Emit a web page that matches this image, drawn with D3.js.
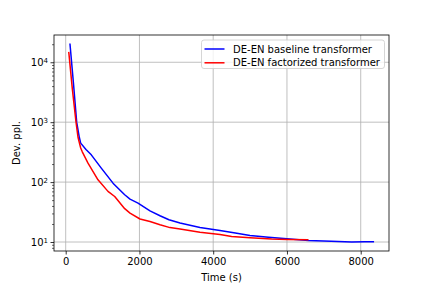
<!DOCTYPE html>
<html><head><meta charset="utf-8">
<script src="https://cdn.jsdelivr.net/npm/d3@7"></script>
<style>body{margin:0;background:#fff}svg{display:block}text{font-family:"DejaVu Sans",sans-serif;fill:#000}</style>
</head><body><svg id="c" width="432" height="288"></svg>
<script>
const seriesNames = ["DE-EN baseline transformer", "DE-EN factorized transformer"];
const seriesColors = ["#0000ff", "#ff0000"];
const baselineTime = [117, 210, 298, 369, 407, 550, 694, 965, 1283, 1600, 1744, 1961, 2286, 2557, 2800, 3100, 3642, 4184, 4600, 4998, 5500, 6000, 6580, 7200, 7756, 8100, 8342];
const baselinePpl  = [20000, 4500, 1000, 560, 447, 350, 285, 171, 96, 61.4, 52, 44.7, 33, 27.4, 23.5, 20.7, 17.5, 15.6, 14.2, 12.9, 12, 11.3, 10.6, 10.3, 10.0, 10.1, 10.1];
const factorTime = [85, 180, 280, 334, 407, 450, 605, 876, 1147, 1329, 1600, 1744, 2015, 2286, 2557, 2828, 3100, 3642, 4184, 4500, 4998, 5586, 6000, 6563];
const factorPpl  = [14500, 3600, 1000, 560, 370, 320, 207, 109, 70, 57.5, 36, 30.4, 24.2, 22, 19.4, 17.4, 16.5, 14.5, 13.4, 12.4, 11.8, 11.2, 11.0, 10.9];
const xTicks = [0, 2000, 4000, 6000, 8000];
const yTicks = [10, 100, 1000, 10000];
const xLabel = "Time (s)";
const yLabel = "Dev. ppl.";

const L = 54, R = 389, T = 35, B = 251;
const svg = d3.select("#c");
const x = d3.scaleLinear().domain([-317, 8767]).range([L, R]);
const y = d3.scaleLog().domain([Math.pow(10, 0.85), Math.pow(10, 4.455)]).range([B, T]);

// grid
const g = svg.append("g");
g.selectAll(".gx").data(xTicks).enter().append("line")
  .attr("x1", d => x(d)).attr("x2", d => x(d)).attr("y1", T).attr("y2", B)
  .attr("stroke", "#b0b0b0").attr("stroke-width", 0.8);
g.selectAll(".gy").data(yTicks).enter().append("line")
  .attr("y1", d => y(d)).attr("y2", d => y(d)).attr("x1", L).attr("x2", R)
  .attr("stroke", "#b0b0b0").attr("stroke-width", 0.8);

// axes
const xAxis = d3.axisBottom(x).tickValues(xTicks).tickSize(3.5).tickPadding(3.5).tickFormat(d3.format("d"));
const xg = svg.append("g").attr("transform", `translate(0,${B})`).call(xAxis);
xg.select(".domain").remove();
xg.selectAll("text").attr("font-size", 10).attr("font-family", "DejaVu Sans");
xg.selectAll("line").attr("stroke-width", 0.8);

const minor = [];
for (let e = 0; e <= 4; e++) for (let k = 2; k <= 9; k++) { const v = k * Math.pow(10, e); if (v > y.domain()[0] && v < y.domain()[1]) minor.push(v); }
const yMinor = d3.axisLeft(y).tickValues(minor).tickSize(2).tickFormat("");
const ymg = svg.append("g").attr("transform", `translate(${L},0)`).call(yMinor);
ymg.select(".domain").remove();
ymg.selectAll("line").attr("stroke-width", 0.6);

const yAxis = d3.axisLeft(y).tickValues(yTicks).tickSize(3.5).tickPadding(3.5).tickFormat("");
const yg = svg.append("g").attr("transform", `translate(${L},0)`).call(yAxis);
yg.select(".domain").remove();
yg.selectAll("line").attr("stroke-width", 0.8);
yg.selectAll(".tick").each(function(d) {
  const t = d3.select(this).append("text").attr("x", -6).attr("dy", "0.32em").attr("text-anchor", "end").attr("font-size", 10).attr("fill", "#000");
  t.append("tspan").text("10");
  t.append("tspan").attr("dy", "-0.45em").attr("font-size", 7).text(Math.round(Math.log10(d)));
});

// lines
const line = d3.line().x(d => x(d[0])).y(d => y(d[1]));
const data = [d3.zip(baselineTime, baselinePpl), d3.zip(factorTime, factorPpl)];
svg.append("g").selectAll("path").data(data).enter().append("path")
  .attr("d", line).attr("fill", "none")
  .attr("stroke", (d, i) => seriesColors[i]).attr("stroke-width", 1.5)
  .attr("stroke-linejoin", "round").attr("stroke-linecap", "square");

// frame
svg.append("rect").attr("x", L).attr("y", T).attr("width", R - L).attr("height", B - T)
  .attr("fill", "none").attr("stroke", "#000").attr("stroke-width", 0.8);

// labels
svg.append("text").attr("x", (L + R) / 2).attr("y", 281).attr("text-anchor", "middle").attr("font-size", 10).text(xLabel);
svg.append("text").attr("transform", `translate(20,${(T + B) / 2}) rotate(-90)`).attr("text-anchor", "middle").attr("font-size", 10).text(yLabel);

// legend
const lg = svg.append("g");
lg.append("rect").attr("x", 201.5).attr("y", 40).attr("width", 183).attr("height", 28.5).attr("rx", 2.5)
  .attr("fill", "#fff").attr("fill-opacity", 0.8).attr("stroke", "#cccccc").attr("stroke-width", 0.8);
seriesNames.forEach((n, i) => {
  const yy = 49 + i * 13.8;
  lg.append("line").attr("x1", 204.5).attr("x2", 224.5).attr("y1", yy).attr("y2", yy)
    .attr("stroke", seriesColors[i]).attr("stroke-width", 1.5);
  lg.append("text").attr("x", 233).attr("y", yy).attr("dy", "0.35em").attr("font-size", 10).text(n);
});
</script></body></html>
